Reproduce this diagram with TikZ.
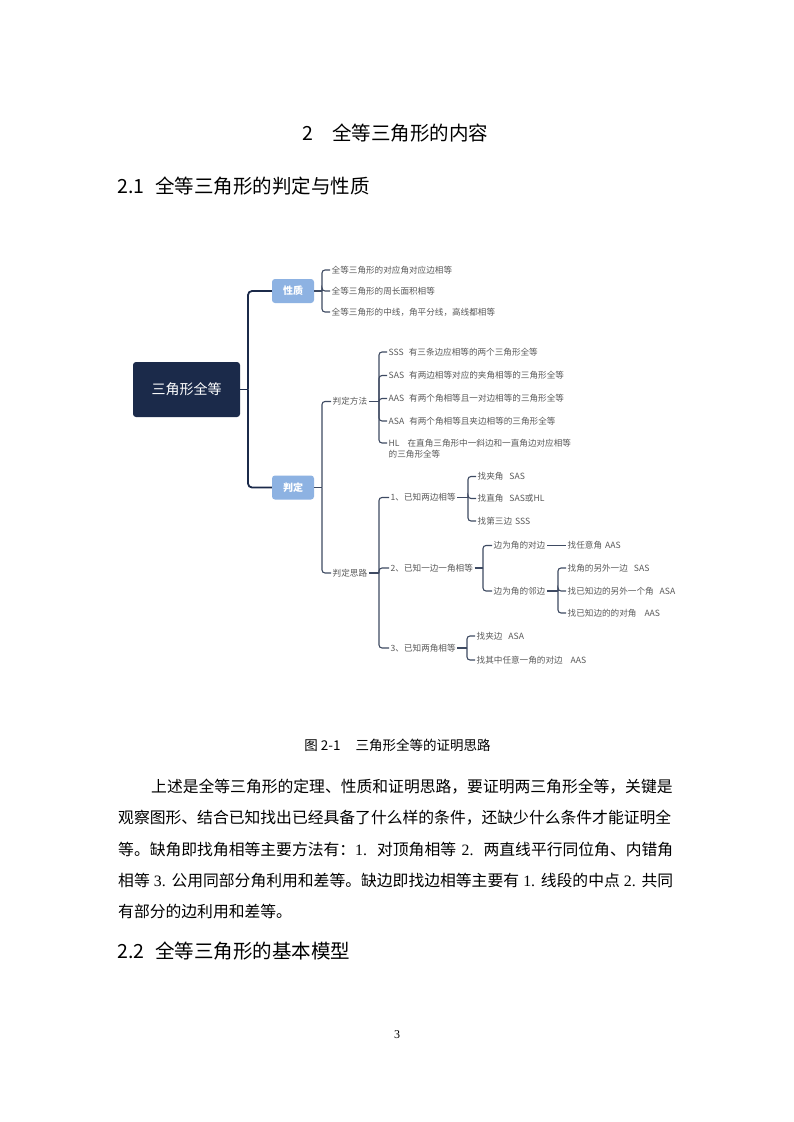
\documentclass[tikz,border=0pt]{standalone}
\usepackage{fontspec}
\setmainfont{Noto Sans CJK SC}
\newfontfamily\tnr{Liberation Serif}
\XeTeXlinebreaklocale "zh"
\XeTeXlinebreakskip=0pt plus 1pt\relax
\definecolor{navy}{HTML}{1B2A4A}
\definecolor{lblue}{HTML}{8DB2E2}
\definecolor{twig}{HTML}{3E4A62}
\definecolor{leafgray}{HTML}{5A5A5A}
\newcommand{\fullline}[2]{\makebox[#1][s]{#2}}
\begin{document}
\begin{tikzpicture}[x=1pt,y=-1pt,
  root/.style={fill=navy, rounded corners=3, minimum width=107, minimum height=55, text=white, font=\fontsize{14}{16}\selectfont},
  lone/.style={fill=lblue, rounded corners=3, minimum width=42, minimum height=24, inner sep=0, text=white, font=\fontsize{10}{12}\selectfont\bfseries},
  leaf/.style={anchor=west, inner sep=1.5, text=leafgray, font=\fontsize{8.6}{10}\selectfont},
  trunk/.style={draw=navy, line width=1.8, rounded corners=4},
  twg/.style={draw=twig, line width=1.1, rounded corners=3},
  heading/.style={anchor=west, inner sep=0, font=\fontsize{19.5}{22}\selectfont},
  para/.style={anchor=west, inner sep=0, font=\fontsize{15.8}{18}\selectfont}
]
\fill[white] (0,0) rectangle (793,1122);
\useasboundingbox (0,0) rectangle (793,1122);

% headings
\node[heading] (h1) at (302,133) {2\hspace{19pt}全等三角形的内容};
\node[heading] (h2) at (117,186) {2.1\hspace{11pt}全等三角形的判定与性质};

% mind map
\node[root] (root) at (186.5,389.5) {三角形全等};
\node[lone] (xz) at (293,291) {性质};
\node[lone] (pd) at (293,487.5) {判定};
\coordinate (t) at (248,389.5);
\draw[trunk] (root.east) -- (t);
\draw[trunk] (t) |- (xz.west);
\draw[trunk] (t) |- (pd.west);

% 性质 leaves
\node[leaf] (x1) at (330,270) {全等三角形的对应角对应边相等};
\node[leaf] (x2) at (330,291) {全等三角形的周长面积相等};
\node[leaf] (x3) at (330,312) {全等三角形的中线，角平分线，高线都相等};
\coordinate (bx) at (322,291);
\draw[twg] (xz.east) -- (bx);
\foreach \c in {x1,x2,x3} \draw[twg] (bx) |- (\c.west);

% 判定
\coordinate (bp) at (322,487.5);
\node[leaf] (m) at (331,401.5) {判定方法};
\node[leaf] (s) at (331,573) {判定思路};
\draw[twg] (pd.east) -- (bp);
\draw[twg] (bp) |- (m.west);
\draw[twg] (bp) |- (s.west);

% 判定方法
\coordinate (bm) at (379,401.5);
\node[leaf] (m1) at (387,352) {SSS\hspace{5pt}有三条边应相等的两个三角形全等};
\node[leaf] (m2) at (387,375.5) {SAS\hspace{5pt}有两边相等对应的夹角相等的三角形全等};
\node[leaf] (m3) at (387,398.5) {AAS\hspace{5pt}有两个角相等且一对边相等的三角形全等};
\node[leaf] (m4) at (387,421) {ASA\hspace{5pt}有两个角相等且夹边相等的三角形全等};
\node[leaf] (m5) at (387,443) {HL\hspace{8pt}在直角三角形中一斜边和一直角边对应相等};
\node[leaf] (m6) at (387,454.5) {的三角形全等};
\draw[twg] (m.east) -- (bm);
\foreach \c in {m1,m2,m3,m4,m5} \draw[twg] (bm) |- (\c.west);

% 判定思路
\coordinate (bs) at (379,573);
\node[leaf] (n1) at (389,497.5) {1、已知两边相等};
\node[leaf] (n2) at (389,568) {2、已知一边一角相等};
\node[leaf] (n3) at (389,648) {3、已知两角相等};
\draw[twg] (s.east) -- (bs);
\draw[twg] (bs) |- (n1.west);
\draw[twg] (bs) |- (n2.west);
\draw[twg] (bs) |- (n3.west);

% 1、
\coordinate (b1) at (468,497.5);
\node[leaf] (a1) at (476,476.5) {找夹角\hspace{6pt}SAS};
\node[leaf] (a2) at (476,498.5) {找直角\hspace{6pt}SAS或HL};
\node[leaf] (a3) at (476,521) {找第三边\hspace{3pt}SSS};
\draw[twg] (n1.east) -- (b1);
\foreach \c in {a1,a2,a3} \draw[twg] (b1) |- (\c.west);

% 2、
\coordinate (b2) at (483,568);
\node[leaf] (e1) at (492,545.5) {边为角的对边};
\node[leaf] (e2) at (492,591) {边为角的邻边};
\draw[twg] (n2.east) -- (b2);
\draw[twg] (b2) |- (e1.west);
\draw[twg] (b2) |- (e2.west);
\node[leaf] (f) at (566,545.5) {找任意角\hspace{3pt}AAS};
\draw[twig, line width=1.8] (e1.east) -- (f.west);
\coordinate (b3) at (558,591);
\node[leaf] (g1) at (566,568) {找角的另外一边\hspace{6pt}SAS};
\node[leaf] (g2) at (566,591) {找已知边的另外一个角\hspace{6pt}ASA};
\node[leaf] (g3) at (566,613) {找已知边的的对角\hspace{8pt}AAS};
\draw[twg] (e2.east) -- (b3);
\foreach \c in {g1,g2,g3} \draw[twg] (b3) |- (\c.west);

% 3、
\coordinate (b4) at (467,648);
\node[leaf] (k1) at (475,636) {找夹边\hspace{6pt}ASA};
\node[leaf] (k2) at (475,660) {找其中任意一角的对边\hspace{8pt}AAS};
\draw[twg] (n3.east) -- (b4);
\draw[twg] (b4) |- (k1.west);
\draw[twg] (b4) |- (k2.west);

% caption
\node[inner sep=0, font=\fontsize{13.5}{15}\selectfont] (cap) at (397.5,745) {图 2-1\hspace{15pt}三角形全等的证明思路};

% paragraph
\node[para] (p1) at (151,787) {\fullline{522pt}{上述是全等三角形的定理、性质和证明思路，要证明两三角形全等，关键是}};
\node[para] (p2) at (118,818) {\fullline{555pt}{观察图形、结合已知找出已经具备了什么样的条件，还缺少什么条件才能证明全}};
\node[para] (p3) at (118,849) {\fullline{555pt}{等。缺角即找角相等主要方法有：{\tnr 1. }对顶角相等{\tnr\ 2. }两直线平行同位角、内错角}};
\node[para] (p4) at (118,880) {\fullline{555pt}{相等{\tnr\ 3. }公用同部分角利用和差等。缺边即找边相等主要有{\tnr\ 1. }线段的中点{\tnr\ 2. }共同}};
\node[para] (p5) at (118,911) {有部分的边利用和差等。};

\node[heading] (h3) at (117,951) {2.2\hspace{11pt}全等三角形的基本模型};

\node[inner sep=0, font=\tnr\fontsize{12}{14}\selectfont] (pg) at (397,1035) {3};
\end{tikzpicture}
\end{document}
